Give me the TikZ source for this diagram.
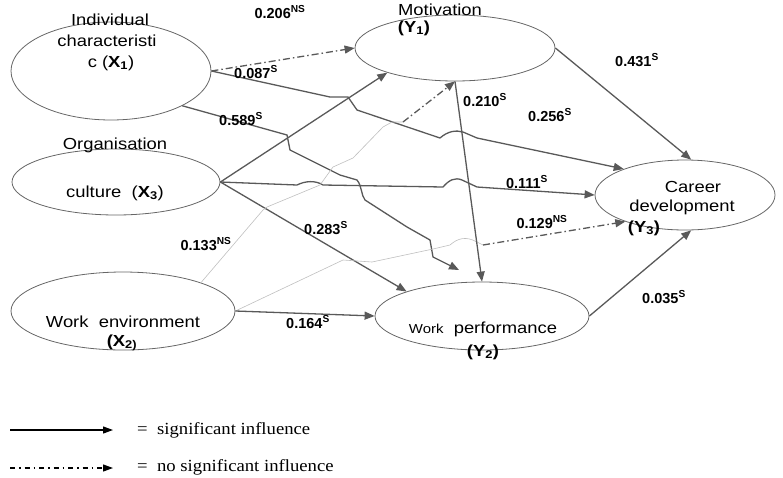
\documentclass[tikz,border=0pt]{standalone}
\usepackage{fontspec}
\setmainfont{Liberation Sans}
\newfontfamily\namefont[FakeStretch=1.15]{Liberation Sans}
\newfontfamily\legfont[FakeStretch=1.1]{Liberation Serif}
\usetikzlibrary{shapes.geometric,arrows.meta}
\newcommand{\coef}[2]{\textbf{#1\textsuperscript{#2}}}
\begin{document}
\begin{tikzpicture}[x=1pt,y=-1pt,
  latent/.style={ellipse,draw=black!60,line width=0.8pt,inner sep=0pt},
  nametext/.style={font=\namefont\fontsize{16}{18}\selectfont,inner sep=0pt},
  coeftext/.style={font=\fontsize{14.5}{16}\selectfont,inner sep=0pt},
  sig/.style={draw=black!65,line width=1.3pt,-{Triangle[length=10pt,width=8pt]}},
  nsig/.style={sig,dash pattern=on 7pt off 3pt on 1.5pt off 3pt},
  faint/.style={draw=black!25,line width=0.6pt},
  legsig/.style={draw=black,line width=1.2pt,-{Triangle[length=10pt,width=7pt]}},
  legtext/.style={font=\legfont\fontsize{17}{19}\selectfont,inner sep=0pt,anchor=west}]
\useasboundingbox (0,0) rectangle (783,477);

\node[latent,minimum width=200pt,minimum height=98pt] (x1) at (111,71) {};
\node[latent,minimum width=208pt,minimum height=66pt] (x3) at (116,182) {};
\node[latent,minimum width=224pt,minimum height=78pt] (x2) at (123,311) {};
\node[latent,minimum width=200pt,minimum height=66pt] (y1) at (455,48) {};
\node[latent,minimum width=180pt,minimum height=70pt] (y3) at (685,195) {};
\node[latent,minimum width=214pt,minimum height=68pt] (y2) at (482,316) {};

\node[nametext] (x1a) at (110,20) {Individual};
\node[nametext] (x1b) at (107,41) {characteristi};
\node[nametext] (x1c) at (111,63) {c (\textbf{X\textsubscript{1}})};
\node[nametext] (x3a) at (115,145) {Organisation};
\node[nametext] (x3b) at (115,193) {culture\ \ (\textbf{X\textsubscript{3}})};
\node[nametext] (x2a) at (123,322) {Work\ \ environment};
\node[nametext] (x2b) at (122,343) {\textbf{(X\textsubscript{2)}}};
\node[nametext] (y1a) at (440,10) {Motivation};
\node[nametext] (y1b) at (414,28) {\textbf{(Y\textsubscript{1})}};
\node[nametext] (y3a) at (693,187) {Career};
\node[nametext] (y3b) at (682,207) {development};
\node[nametext] (y3c) at (644,228) {\textbf{(Y\textsubscript{3})}};
\node[nametext] (y2a) at (483,329) {{\fontsize{13}{15}\selectfont Work}\ \ performance};
\node[nametext] (y2b) at (483,352) {\textbf{(Y\textsubscript{2})}};

\coordinate (tip3) at (459,270);
\draw[nsig] (x1.east) -- (y1.west);
\draw[sig] (x1.east) -- (330,97) -- (348,97) -- (357,110) -- (440,138) .. controls (448,131) and (456,130) .. (463,132) -- (477,138) -- (y3.157);
\draw[sig] (x1.-26) -- (287,135) -- (290,150) -- (340,175) -- (357,180) .. controls (362,186) and (361,195) .. (365,200) -- (407,227) -- (430,240) -- (433,257) -- (tip3);
\draw[sig] (x3.east) -- (y1.200);
\draw[sig] (x3.east) -- (297,185) .. controls (305,181) and (315,180) .. (323,185) -- (443,187) .. controls (449,180) and (455,177) .. (462,180) -- (477,187) -- (y3.west);
\draw[sig] (x3.east) -- (y2.162);
\draw[faint] (x2.20) -- (263,210) -- (267,207) -- (320,185) -- (333,167) -- (353,158) -- (383,127) -- (392,122) -- (403,122) coordinate (k7);
\draw[nsig] (k7) -- (y1.south);
\draw[faint] (x2.east) -- (343,260) -- (372,262) -- (433,249) -- (450,245) .. controls (458,238) and (466,236) .. (477,242) -- (483,245) coordinate (k8);
\draw[nsig] (k8) -- (y3.204);
\draw[sig] (x2.east) -- (y2.west);
\draw[sig] (y1.east) -- (y3.80);
\draw[sig] (y1.south) -- (y2.north);
\draw[sig] (y2.east) -- (y3.-80);

\node[coeftext] (c206) at (280,12) {\coef{0.206}{NS}};
\node[coeftext] (c087) at (256,72) {\coef{0.087}{S}};
\node[coeftext] (c589) at (241,119) {\coef{0.589}{S}};
\node[coeftext] (c283) at (326,228) {\coef{0.283}{S}};
\node[coeftext] (c133) at (206,244) {\coef{0.133}{NS}};
\node[coeftext] (c164) at (308,322) {\coef{0.164}{S}};
\node[coeftext] (c210) at (485,100) {\coef{0.210}{S}};
\node[coeftext] (c256) at (550,115) {\coef{0.256}{S}};
\node[coeftext] (c431) at (637,60) {\coef{0.431}{S}};
\node[coeftext] (c111) at (527,182) {\coef{0.111}{S}};
\node[coeftext] (c129) at (542,222) {\coef{0.129}{NS}};
\node[coeftext] (c035) at (664,297) {\coef{0.035}{S}};

\coordinate (l1a) at (10,430);
\coordinate (l1b) at (113,430);
\coordinate (l2a) at (10,468);
\coordinate (l2b) at (113,468);
\draw[legsig] (l1a) -- (l1b);
\draw[legsig,dash pattern=on 5pt off 4pt on 1.5pt off 4pt] (l2a) -- (l2b);
\node[legtext] (l1) at (137,430) {=\ \ significant influence};
\node[legtext] (l2) at (137,467) {=\ \ no significant influence};
\end{tikzpicture}
\end{document}
